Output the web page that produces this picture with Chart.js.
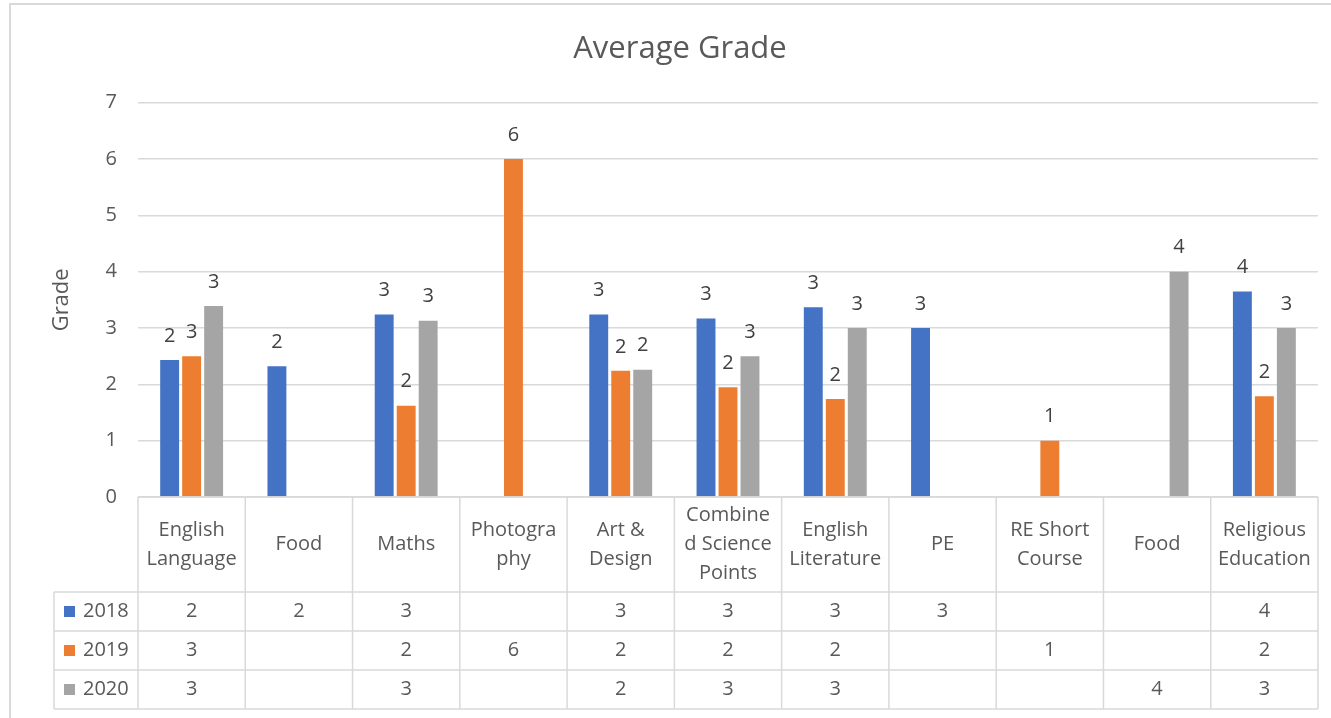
<!DOCTYPE html>
<html>
<head>
<meta charset="utf-8">
<script src="https://cdn.jsdelivr.net/npm/chart.js@4/dist/chart.umd.min.js"></script>
<style>
  html, body { margin: 0; padding: 0; background: #fff; }
  canvas { display: block; }
</style>
</head>
<body>
<canvas id="gradeChart" width="1331" height="718"></canvas>
<script>
// subjects, split into the lines they wrap to in the table header
const categories = [
  ["English", "Language"],
  ["Food"],
  ["Maths"],
  ["Photogra", "phy"],
  ["Art &", "Design"],
  ["Combine", "d Science", "Points"],
  ["English", "Literature"],
  ["PE"],
  ["RE Short", "Course"],
  ["Food"],
  ["Religious", "Education"]
];
const years = ["2018", "2019", "2020"];
const grades2018 = [2.43, 2.32, 3.24, null, 3.24, 3.17, 3.37, 3.0, null, null, 3.65];
const grades2019 = [2.5, null, 1.62, 6.0, 2.24, 1.95, 1.74, null, 1.0, null, 1.79];
const grades2020 = [3.39, null, 3.13, null, 2.26, 2.5, 3.0, null, null, 4.0, 3.0];
const yTicks = [0, 1, 2, 3, 4, 5, 6, 7];
const chartTitle = "Average Grade";

const colors = ["#4472C4", "#ED7D31", "#A5A5A5"];
const FONT = "'Open Sans', 'Noto Sans', sans-serif";
const gridColor = "#d9d9d9";

// frame round the whole chart (top and left edges only are visible) + title
const framePlugin = {
  id: "frame",
  beforeDraw(chart) {
    const ctx = chart.ctx;
    ctx.save();
    ctx.strokeStyle = gridColor;
    ctx.lineWidth = 2;
    ctx.beginPath();
    ctx.moveTo(10, chart.height);
    ctx.lineTo(10, 4);
    ctx.lineTo(chart.width, 4);
    ctx.stroke();

    ctx.font = `31px ${FONT}`;
    ctx.fillStyle = "#595959";
    ctx.textAlign = "center";
    ctx.textBaseline = "alphabetic";
    ctx.fillText(chartTitle, 680, 58);
    ctx.restore();
  }
};

// rounded value above each bar
const valueLabels = {
  id: "valueLabels",
  afterDatasetsDraw(chart) {
    const ctx = chart.ctx;
    ctx.save();
    ctx.font = `20px ${FONT}`;
    ctx.fillStyle = "#404040";
    ctx.textAlign = "center";
    ctx.textBaseline = "middle";
    chart.data.datasets.forEach((ds, di) => {
      chart.getDatasetMeta(di).data.forEach((bar, i) => {
        const v = ds.data[i];
        if (v === null) return;
        ctx.fillText(String(Math.round(v)), bar.x, bar.y - 24);
      });
    });
    ctx.restore();
  }
};

// Excel style data table under the plot
const dataTable = {
  id: "dataTable",
  afterDraw(chart) {
    const ctx = chart.ctx;
    const xs = chart.scales.x;
    const area = chart.chartArea;
    const n = categories.length;
    const colW = area.width / n;
    const headTop = area.bottom;
    const headBottom = 592;
    const rowH = 39;
    const legendLeft = 54;
    const tableBottom = headBottom + rowH * years.length;

    ctx.save();
    ctx.strokeStyle = gridColor;
    ctx.lineWidth = 1.5;
    ctx.beginPath();
    ctx.moveTo(area.left, headTop);
    ctx.lineTo(area.right, headTop);
    for (let r = 0; r <= years.length; r++) {
      const y = headBottom + r * rowH;
      ctx.moveTo(legendLeft, y);
      ctx.lineTo(area.right, y);
    }
    for (let k = 0; k <= n; k++) {
      const x = area.left + k * colW;
      ctx.moveTo(x, headTop);
      ctx.lineTo(x, tableBottom);
    }
    ctx.moveTo(legendLeft, headBottom);
    ctx.lineTo(legendLeft, tableBottom);
    ctx.stroke();

    ctx.font = `20px ${FONT}`;
    ctx.fillStyle = "#595959";
    ctx.textAlign = "center";
    ctx.textBaseline = "middle";
    const headMid = (headTop + headBottom) / 2;
    const lineGap = 29;
    categories.forEach((lines, i) => {
      const cx = xs.getPixelForValue(i);
      const y0 = headMid - (lines.length - 1) * lineGap / 2;
      lines.forEach((t, j) => ctx.fillText(t, cx, y0 + j * lineGap));
    });

    chart.data.datasets.forEach((ds, r) => {
      const cy = headBottom + r * rowH + rowH / 2;
      ctx.fillStyle = colors[r];
      ctx.fillRect(64, cy - 5.5, 11, 11);
      ctx.fillStyle = "#595959";
      ctx.textAlign = "left";
      ctx.fillText(ds.label, 83, cy);
      ctx.textAlign = "center";
      ds.data.forEach((v, i) => {
        if (v === null) return;
        ctx.fillText(String(Math.round(v)), xs.getPixelForValue(i), cy);
      });
    });
    ctx.restore();
  }
};

new Chart(document.getElementById("gradeChart"), {
  type: "bar",
  data: {
    labels: categories,
    datasets: [
      { label: years[0], data: grades2018, backgroundColor: colors[0] },
      { label: years[1], data: grades2019, backgroundColor: colors[1] },
      { label: years[2], data: grades2020, backgroundColor: colors[2] }
    ]
  },
  options: {
    responsive: false,
    animation: false,
    devicePixelRatio: 1,
    categoryPercentage: 0.615,
    barPercentage: 0.86,
    layout: { padding: { left: 0, right: 13, top: 102.7, bottom: 0 } },
    plugins: {
      legend: { display: false },
      tooltip: { enabled: false },
      title: { display: false }
    },
    scales: {
      x: {
        ticks: { display: false },
        grid: { display: false },
        border: { display: false },
        afterFit: (s) => { s.height = 221; }
      },
      y: {
        min: yTicks[0],
        max: yTicks[yTicks.length - 1],
        afterBuildTicks: (s) => { s.ticks = yTicks.map((v) => ({ value: v })); },
        ticks: { color: "#595959", font: { family: FONT, size: 20 }, padding: 21 },
        grid: { color: gridColor, lineWidth: 1.5, drawTicks: false },
        border: { display: false },
        title: {
          display: true,
          text: "Grade",
          color: "#595959",
          font: { family: FONT, size: 22 },
          padding: { top: 49, bottom: 0 }
        },
        afterFit: (s) => { s.width = 138; }
      }
    }
  },
  plugins: [framePlugin, valueLabels, dataTable]
});
</script>
</body>
</html>
